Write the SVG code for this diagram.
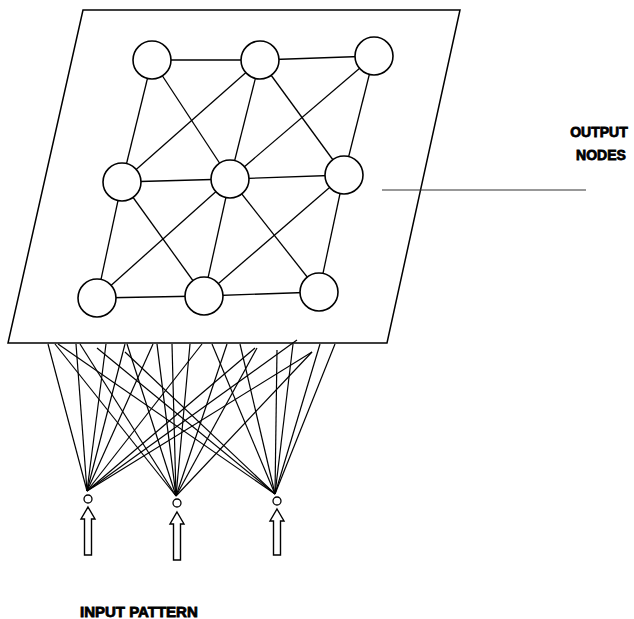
<svg xmlns="http://www.w3.org/2000/svg" width="634" height="619" viewBox="0 0 634 619">
  <style>
    .plane { fill: none; stroke: #000; stroke-width: 1.5; stroke-linejoin: miter; }
    .edge { stroke: #000; stroke-width: 1.3; fill: none; }
    .fan { stroke: #000; stroke-width: 1.2; fill: none; }
    .node { fill: #fff; stroke: #000; stroke-width: 1.6; }
    .in-node { fill: #fff; stroke: #000; stroke-width: 1.3; }
    .arrow { fill: #fff; stroke: #000; stroke-width: 1.4; stroke-linejoin: miter; }
    .label { font-family: "Liberation Sans", Arial, sans-serif; font-weight: bold; fill: #000; stroke: #000; stroke-width: 0.8; }
  </style>

  <!-- output plane -->
  <polygon class="plane" points="83,10 460,10 387,343 8,343"/>

  <g id="connectors">
    <!-- lateral connections between output nodes -->
    <g id="lattice">
      <line class="edge" x1="152" y1="60" x2="260" y2="60"/>
      <line class="edge" x1="260" y1="60" x2="374" y2="56"/>
      <line class="edge" x1="122" y1="182" x2="230" y2="179"/>
      <line class="edge" x1="230" y1="179" x2="344" y2="175"/>
      <line class="edge" x1="97" y1="298" x2="204" y2="296"/>
      <line class="edge" x1="204" y1="296" x2="319" y2="292"/>
      <line class="edge" x1="152" y1="60" x2="122" y2="182"/>
      <line class="edge" x1="122" y1="182" x2="97" y2="298"/>
      <line class="edge" x1="260" y1="60" x2="230" y2="179"/>
      <line class="edge" x1="230" y1="179" x2="204" y2="296"/>
      <line class="edge" x1="374" y1="56" x2="344" y2="175"/>
      <line class="edge" x1="344" y1="175" x2="319" y2="292"/>
      <line class="edge" x1="152" y1="60" x2="230" y2="179"/>
      <line class="edge" x1="260" y1="60" x2="122" y2="182"/>
      <line class="edge" x1="260" y1="60" x2="344" y2="175"/>
      <line class="edge" x1="374" y1="56" x2="230" y2="179"/>
      <line class="edge" x1="122" y1="182" x2="204" y2="296"/>
      <line class="edge" x1="230" y1="179" x2="97" y2="298"/>
      <line class="edge" x1="230" y1="179" x2="319" y2="292"/>
      <line class="edge" x1="344" y1="175" x2="204" y2="296"/>
    </g>

    <!-- pointer line for the output label -->
    <line x1="382" y1="190" x2="586" y2="190" stroke="#333" stroke-width="1.2"/>

    <!-- input-to-plane fan lines -->
    <g id="fan-1">
      <line class="fan" x1="48" y1="344" x2="87" y2="491"/>
      <line class="fan" x1="76" y1="344" x2="87" y2="491"/>
      <line class="fan" x1="106" y1="344" x2="87" y2="491"/>
      <line class="fan" x1="125" y1="344" x2="87" y2="491"/>
      <line class="fan" x1="153" y1="344" x2="87" y2="491"/>
      <line class="fan" x1="202" y1="344" x2="87" y2="491"/>
      <line class="fan" x1="255" y1="348" x2="87" y2="491"/>
      <line class="fan" x1="297" y1="340" x2="87" y2="491"/>
      <line class="fan" x1="312" y1="352" x2="87" y2="491"/>
    </g>
    <g id="fan-2">
      <line class="fan" x1="55" y1="344" x2="176" y2="496"/>
      <line class="fan" x1="80" y1="344" x2="176" y2="496"/>
      <line class="fan" x1="127" y1="344" x2="176" y2="496"/>
      <line class="fan" x1="157" y1="344" x2="176" y2="496"/>
      <line class="fan" x1="172" y1="344" x2="176" y2="496"/>
      <line class="fan" x1="190" y1="344" x2="176" y2="496"/>
      <line class="fan" x1="227" y1="344" x2="176" y2="496"/>
      <line class="fan" x1="257" y1="348" x2="176" y2="496"/>
      <line class="fan" x1="312" y1="352" x2="176" y2="496"/>
    </g>
    <g id="fan-3">
      <line class="fan" x1="58" y1="344" x2="275" y2="494"/>
      <line class="fan" x1="97" y1="348" x2="275" y2="494"/>
      <line class="fan" x1="125" y1="352" x2="275" y2="494"/>
      <line class="fan" x1="212" y1="344" x2="275" y2="494"/>
      <line class="fan" x1="240" y1="344" x2="275" y2="494"/>
      <line class="fan" x1="277" y1="350" x2="275" y2="494"/>
      <line class="fan" x1="293" y1="344" x2="275" y2="494"/>
      <line class="fan" x1="320" y1="344" x2="275" y2="494"/>
      <line class="fan" x1="335" y1="344" x2="275" y2="494"/>
    </g>
  </g>

  <!-- output nodes -->
  <g id="out-1-1"><circle class="node" cx="152" cy="60" r="19"/></g>
  <g id="out-1-2"><circle class="node" cx="260" cy="60" r="19"/></g>
  <g id="out-1-3"><circle class="node" cx="374" cy="56" r="19"/></g>
  <g id="out-2-1"><circle class="node" cx="122" cy="182" r="19"/></g>
  <g id="out-2-2"><circle class="node" cx="230" cy="179" r="19"/></g>
  <g id="out-2-3"><circle class="node" cx="344" cy="175" r="19"/></g>
  <g id="out-3-1"><circle class="node" cx="97" cy="298" r="19"/></g>
  <g id="out-3-2"><circle class="node" cx="204" cy="296" r="19"/></g>
  <g id="out-3-3"><circle class="node" cx="319" cy="292" r="19"/></g>

  <!-- input nodes with their feed arrows -->
  <g id="in-1">
    <circle class="in-node" cx="88" cy="499" r="4"/>
    <polygon class="arrow" points="88,507 95,519 91.5,519 91.5,555 84.5,555 84.5,519 81,519"/>
  </g>
  <g id="in-2">
    <circle class="in-node" cx="177" cy="503" r="4"/>
    <polygon class="arrow" points="177,512 184,524 180.5,524 180.5,560 173.5,560 173.5,524 170,524"/>
  </g>
  <g id="in-3">
    <circle class="in-node" cx="277" cy="501" r="4"/>
    <polygon class="arrow" points="277,509 284,521 280.5,521 280.5,555 273.5,555 273.5,521 270,521"/>
  </g>

  <!-- labels -->
  <g id="label-output">
    <text class="label" x="599" y="137" font-size="14" text-anchor="middle">OUTPUT</text>
    <text class="label" x="601" y="160" font-size="14" text-anchor="middle">NODES</text>
  </g>
  <g id="label-input">
    <text class="label" x="80" y="617" font-size="15">INPUT PATTERN</text>
  </g>
</svg>
